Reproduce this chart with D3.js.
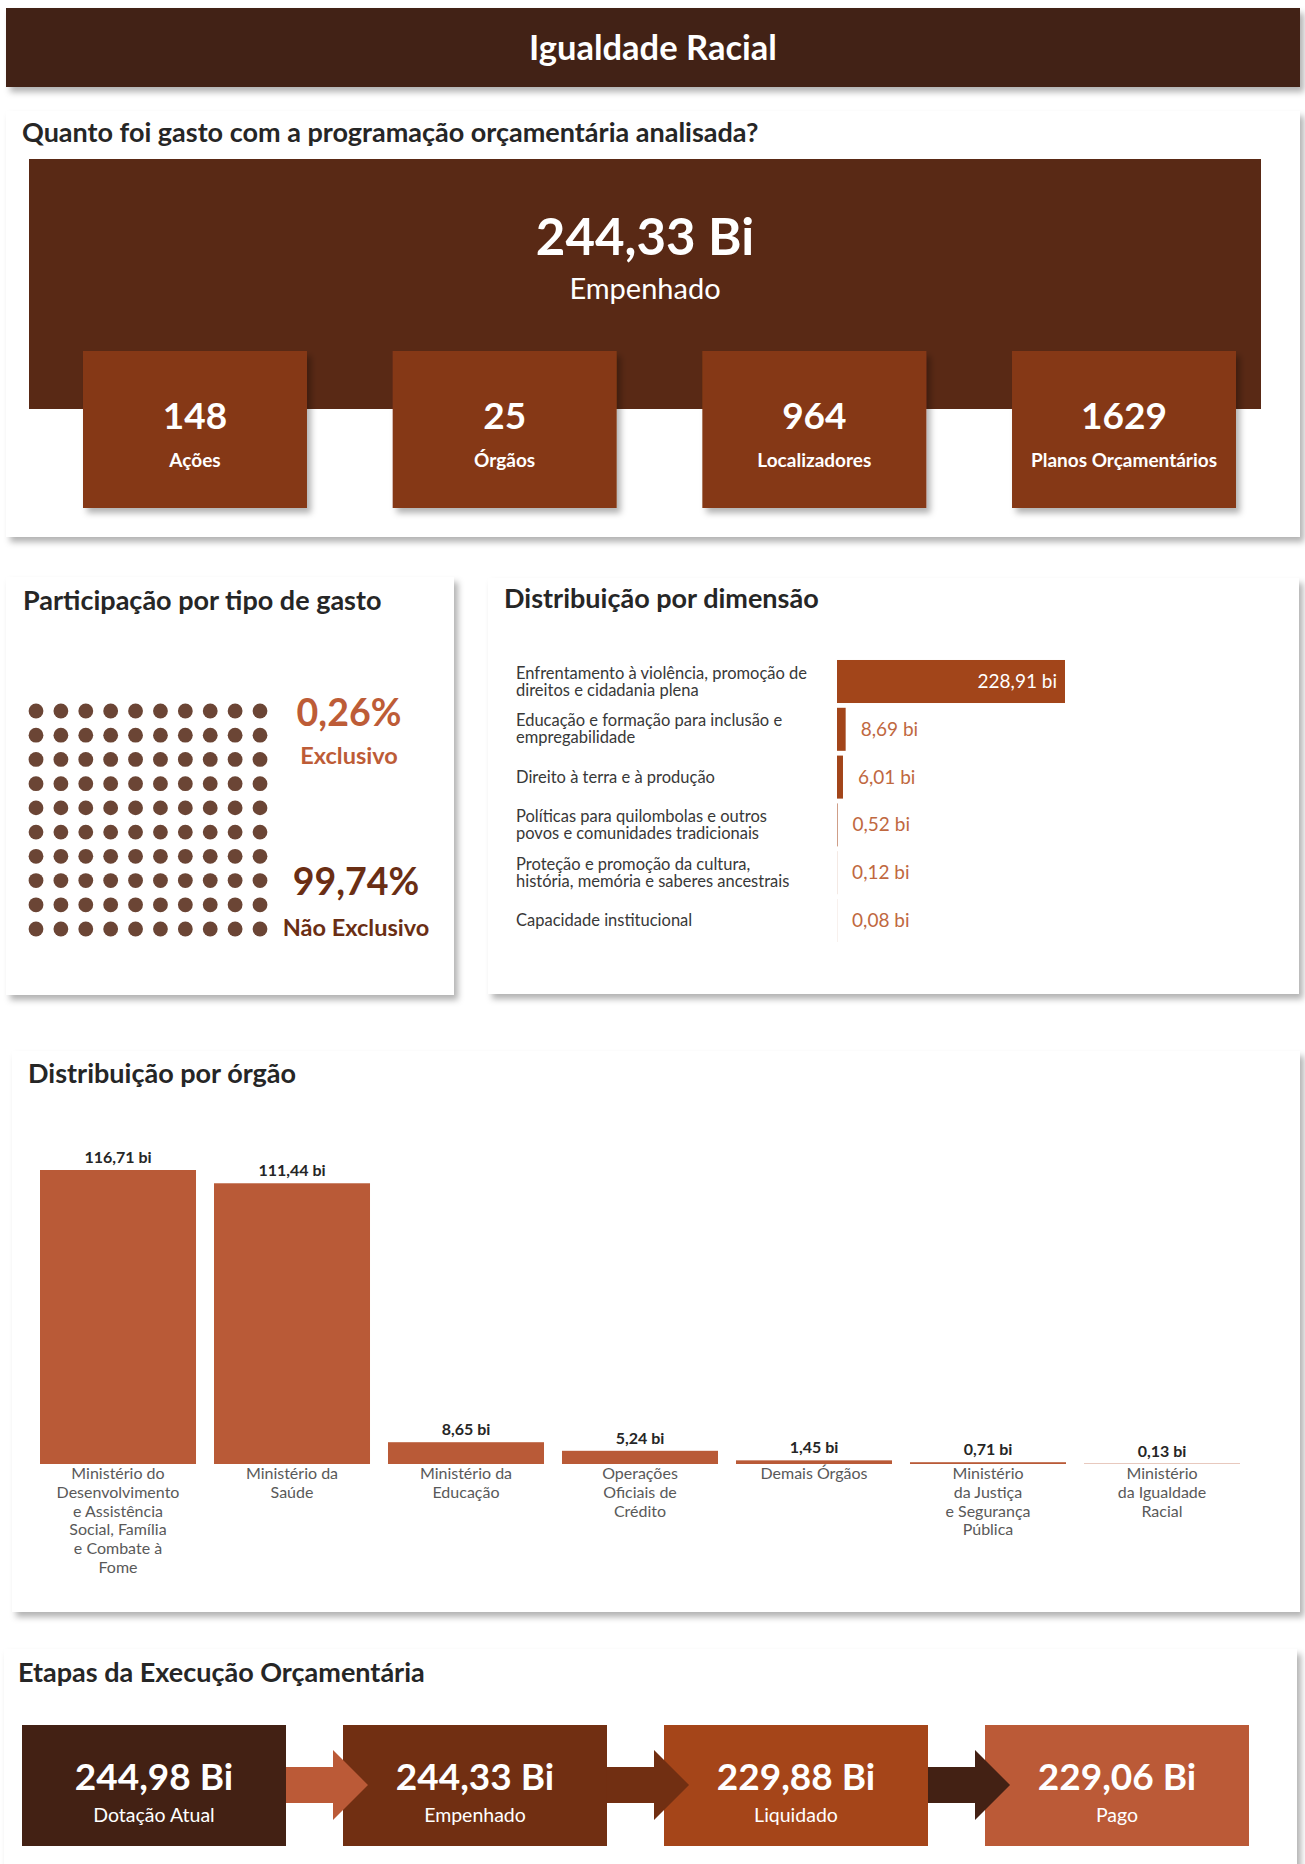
<!DOCTYPE html>
<html>
<head>
<meta charset="utf-8">
<script src="https://cdn.jsdelivr.net/npm/d3@7"></script>
<style>
  body { margin: 0; background: #fff; }
  svg { display: block; font-family: Lato, "Open Sans", sans-serif; }
</style>
</head>
<body>
<div class="area"></div>
<script>
// data
var empenhadoTotal = 244.33;
var kpiLabels = ["Ações", "Órgãos", "Localizadores", "Planos Orçamentários"];
var kpiValues = [148, 25, 964, 1629];

var gastoTipos = ["Exclusivo", "Não Exclusivo"];
var gastoPct = [0.26, 99.74];

var dimensoes = [
  "Enfrentamento à violência, promoção de\ndireitos e cidadania plena",
  "Educação e formação para inclusão e\nempregabilidade",
  "Direito à terra e à produção",
  "Políticas para quilombolas e outros\npovos e comunidades tradicionais",
  "Proteção e promoção da cultura,\nhistória, memória e saberes ancestrais",
  "Capacidade institucional"
];
var dimValores = [228.91, 8.69, 6.01, 0.52, 0.12, 0.08];

var orgaos = [
  "Ministério do\nDesenvolvimento\ne Assistência\nSocial, Família\ne Combate à\nFome",
  "Ministério da\nSaúde",
  "Ministério da\nEducação",
  "Operações\nOficiais de\nCrédito",
  "Demais Órgãos",
  "Ministério\nda Justiça\ne Segurança\nPública",
  "Ministério\nda Igualdade\nRacial"
];
var orgaoValores = [116.71, 111.44, 8.65, 5.24, 1.45, 0.71, 0.13];

var etapas = ["Dotação Atual", "Empenhado", "Liquidado", "Pago"];
var etapaValores = [244.98, 244.33, 229.88, 229.06];

var width = 1305, height = 1864;

var pt = d3.formatLocale({decimal: ",", thousands: ".", grouping: [3], currency: ["R$", ""]});
var f2 = pt.format(".2f");

var svg = d3.select(".area")
  .append("svg")
    .attr("width", width)
    .attr("height", height);

// drop shadow
var defs = svg.append("defs");
defs.append("filter").attr("id", "shadow")
    .attr("x", "-5%").attr("y", "-5%").attr("width", "115%").attr("height", "120%")
  .append("feDropShadow")
    .attr("dx", 4).attr("dy", 5).attr("stdDeviation", 3)
    .attr("flood-color", "#000").attr("flood-opacity", 0.3);

function card(x, y, w, h, fill) {
  return svg.append("rect")
    .attr("x", x).attr("y", y).attr("width", w).attr("height", h)
    .attr("fill", fill || "#fff")
    .attr("filter", "url(#shadow)");
}
function title(txt, x, y) {
  svg.append("text").attr("x", x).attr("y", y)
    .attr("font-size", 27).attr("font-weight", 700).attr("fill", "#262626")
    .text(txt);
}
function multiline(sel, lineH) {
  sel.each(function(d) {
    var t = d3.select(this), lines = t.text().split("\n");
    t.text(null);
    lines.forEach(function(l, i) {
      t.append("tspan").attr("x", t.attr("x")).attr("dy", i ? lineH : 0).text(l);
    });
  });
}

// header
card(6, 8, 1294, 79, "#432114");
svg.append("text").attr("x", 653).attr("y", 60)
  .attr("text-anchor", "middle").attr("font-size", 34.5).attr("font-weight", 700)
  .attr("fill", "#fff").text("Igualdade Racial");

// ---- panel 1
card(6, 111, 1294, 426);
title("Quanto foi gasto com a programação orçamentária analisada?", 22, 142);
svg.append("rect").attr("x", 29).attr("y", 159).attr("width", 1232).attr("height", 250)
  .attr("fill", "#592915");
svg.append("text").attr("x", 645).attr("y", 255)
  .attr("text-anchor", "middle").attr("font-size", 51).attr("font-weight", 700)
  .attr("fill", "#fff").text(f2(empenhadoTotal) + " Bi");
svg.append("text").attr("x", 645).attr("y", 299)
  .attr("text-anchor", "middle").attr("font-size", 29)
  .attr("fill", "#fff").text("Empenhado");

var xk = d3.scaleBand().domain(kpiLabels).range([83, 1236]).paddingInner(0.2767);
var kpi = svg.append("g").selectAll("g")
  .data(kpiLabels).enter().append("g")
  .attr("transform", function(d) { return "translate(" + xk(d) + ",351)"; });
kpi.append("rect")
  .attr("width", xk.bandwidth()).attr("height", 157)
  .attr("fill", "#853916").attr("filter", "url(#shadow)");
kpi.append("text").attr("x", xk.bandwidth() / 2).attr("y", 78)
  .attr("text-anchor", "middle").attr("font-size", 37).attr("font-weight", 700)
  .attr("fill", "#fff").text(function(d, i) { return kpiValues[i]; });
kpi.append("text").attr("x", xk.bandwidth() / 2).attr("y", 116)
  .attr("text-anchor", "middle").attr("font-size", 19).attr("font-weight", 700)
  .attr("fill", "#fff").text(function(d) { return d; });

// ---- panel 2 (waffle)
card(6, 577, 448, 418);
title("Participação por tipo de gasto", 23, 610);
var xw = d3.scaleLinear().domain([0, 9]).range([36, 260]);
var yw = d3.scaleLinear().domain([0, 9]).range([711, 929]);
var nExcl = Math.round(gastoPct[0]);
svg.append("g").selectAll("circle")
  .data(d3.range(100)).enter().append("circle")
  .attr("cx", function(d) { return xw(d % 10); })
  .attr("cy", function(d) { return yw(Math.floor(d / 10)); })
  .attr("r", 7.4)
  .attr("fill", function(d) { return d < nExcl ? "#bb5a37" : "#6b4535"; });

var pctColors = ["#bd5c37", "#6a2e14"];
var pctPos = [{x: 349, y: 726, ly: 764}, {x: 356, y: 895, ly: 936}];
gastoTipos.forEach(function(t, i) {
  svg.append("text").attr("x", pctPos[i].x).attr("y", pctPos[i].y)
    .attr("text-anchor", "middle").attr("font-size", 37.5).attr("font-weight", 700)
    .attr("fill", pctColors[i]).text(f2(gastoPct[i]) + "%");
  svg.append("text").attr("x", pctPos[i].x).attr("y", pctPos[i].ly)
    .attr("text-anchor", "middle").attr("font-size", 23.5).attr("font-weight", 700)
    .attr("fill", pctColors[i]).text(t);
});

// ---- panel 3 (dimensão)
card(488, 578, 811, 416);
title("Distribuição por dimensão", 504, 608);
var xd = d3.scaleLinear().domain([0, d3.max(dimValores)]).range([837, 1065]);
var yd = d3.scaleBand().domain(dimensoes).range([657.6, 944.4])
  .paddingInner(0.1).paddingOuter(0.05);
var dim = svg.append("g").selectAll("g")
  .data(dimensoes).enter().append("g");
dim.append("rect")
  .attr("x", xd(0))
  .attr("y", function(d) { return yd(d); })
  .attr("width", function(d, i) { return xd(dimValores[i]) - xd(0); })
  .attr("height", yd.bandwidth())
  .attr("fill", "#a2451a");
dim.append("text")
  .attr("x", function(d, i) { return i === 0 ? xd(dimValores[i]) - 8 : xd(dimValores[i]) + 15; })
  .attr("y", function(d) { return yd(d) + yd.bandwidth() / 2 + 6.5; })
  .attr("text-anchor", function(d, i) { return i === 0 ? "end" : "start"; })
  .attr("font-size", 19)
  .attr("fill", function(d, i) { return i === 0 ? "#fff" : "#c0683f"; })
  .text(function(d, i) { return f2(dimValores[i]) + " bi"; });
dim.append("text")
  .attr("x", 516)
  .attr("y", function(d) {
    var n = d.split("\n").length;
    return yd(d) + yd.bandwidth() / 2 - (n - 1) * 8.5 + 5.5;
  })
  .attr("font-size", 16.5)
  .attr("fill", "#383838")
  .text(function(d) { return d; })
  .call(multiline, 17);

// ---- panel 4 (órgão)
card(12, 1051, 1288, 561);
title("Distribuição por órgão", 28, 1083);
var xo = d3.scaleBand().domain(orgaos).range([31.3, 1248.7])
  .paddingInner(0.1034).paddingOuter(0.05);
var yo = d3.scaleLinear().domain([0, d3.max(orgaoValores)]).range([1464, 1170]);
var org = svg.append("g").selectAll("g")
  .data(orgaos).enter().append("g");
org.append("rect")
  .attr("x", function(d) { return xo(d); })
  .attr("y", function(d, i) { return yo(orgaoValores[i]); })
  .attr("width", xo.bandwidth())
  .attr("height", function(d, i) { return yo(0) - yo(orgaoValores[i]); })
  .attr("fill", "#b95a37");
org.append("text")
  .attr("x", function(d) { return xo(d) + xo.bandwidth() / 2; })
  .attr("y", function(d, i) { return yo(orgaoValores[i]) - 7; })
  .attr("text-anchor", "middle")
  .attr("font-size", 16).attr("font-weight", 700).attr("fill", "#262626")
  .text(function(d, i) { return f2(orgaoValores[i]) + " bi"; });
org.append("text")
  .attr("x", function(d) { return xo(d) + xo.bandwidth() / 2; })
  .attr("y", 1479)
  .attr("text-anchor", "middle")
  .attr("font-size", 16).attr("fill", "#595959")
  .text(function(d) { return d; })
  .call(multiline, 18.8);

// ---- panel 5 (etapas)
card(4, 1649, 1293, 230);
title("Etapas da Execução Orçamentária", 18, 1682);
var boxColors = ["#432114", "#712f12", "#a54519", "#bb5a37"];
var arrowColors = ["#bb5a37", "#712f12", "#432114"];
var xe = d3.scaleBand().domain(etapas).range([22, 1249]).paddingInner(0.1776);
var et = svg.append("g").selectAll("g")
  .data(etapas).enter().append("g")
  .attr("transform", function(d) { return "translate(" + xe(d) + ",1725)"; });
et.append("rect")
  .attr("width", xe.bandwidth()).attr("height", 121)
  .attr("fill", function(d, i) { return boxColors[i]; });
et.append("text").attr("x", xe.bandwidth() / 2).attr("y", 65)
  .attr("text-anchor", "middle").attr("font-size", 37).attr("font-weight", 700)
  .attr("fill", "#fff").text(function(d, i) { return f2(etapaValores[i]) + " Bi"; });
et.append("text").attr("x", xe.bandwidth() / 2).attr("y", 97)
  .attr("text-anchor", "middle").attr("font-size", 19.5)
  .attr("fill", "#fff").text(function(d) { return d; });

svg.append("g").selectAll("path")
  .data(etapas.slice(1)).enter().append("path")
  .attr("d", function(d, i) {
    var x0 = xe(etapas[i]) + xe.bandwidth(), x1 = xe(d) - 10, x2 = xe(d) + 25;
    return "M" + x0 + ",1767H" + x1 + "V1750L" + x2 + ",1785L" + x1 + ",1820V1803H" + x0 + "Z";
  })
  .attr("fill", function(d, i) { return arrowColors[i]; });
</script>
</body>
</html>
